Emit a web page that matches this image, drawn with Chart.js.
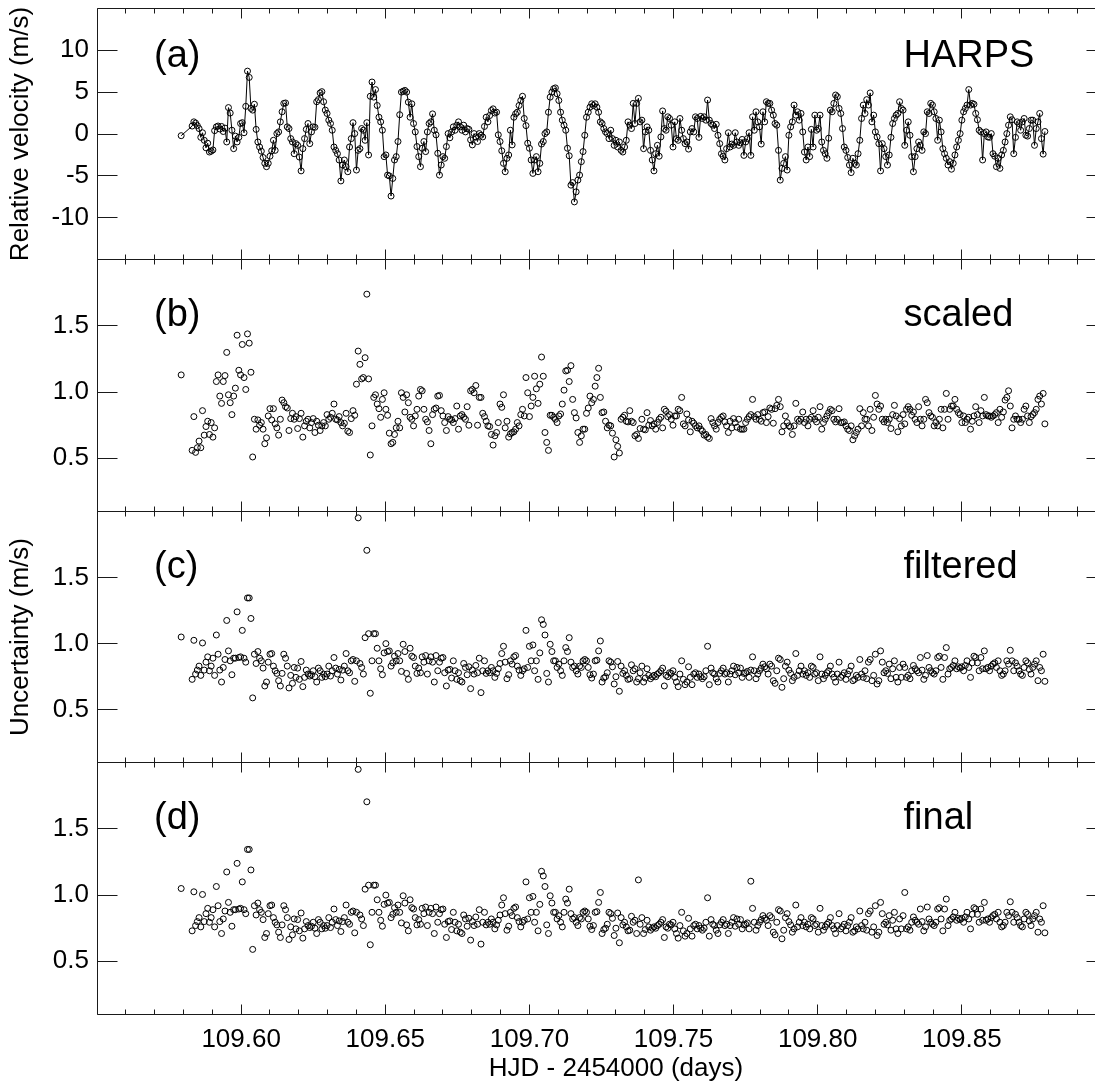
<!DOCTYPE html>
<html>
<head>
<meta charset="utf-8">
<script src="https://cdn.jsdelivr.net/npm/chart.js@4.4.1/dist/chart.umd.min.js"></script>
<style>
html,body{margin:0;padding:0;background:#fff;overflow:hidden;}
#wrap{position:relative;width:1095px;height:1085px;overflow:hidden;background:#fff;}
#wrap canvas{position:absolute;left:0;top:0;}
</style>
</head>
<body>
<div id="wrap">
<canvas id="c0" width="1110" height="1085"></canvas>
<canvas id="c1" width="1110" height="1085"></canvas>
<canvas id="c2" width="1110" height="1085"></canvas>
<canvas id="c3" width="1110" height="1085"></canvas>
</div>
<script>
// ---------------- data (HJD - 2454000, days) ----------------
const TIMES = [109.5792,
109.5830,109.5836,109.5842,109.5848,109.5854,109.5860,109.5866,109.5872,109.5878,109.5884,
109.5890,109.5896,109.5902,109.5908,109.5914,109.5920,109.5926,109.5932,109.5938,109.5944,
109.5950,109.5956,109.5962,109.5968,109.5974,109.5980,109.5986,109.5992,109.5998,109.6004,
109.6010,109.6016,109.6022,109.6028,109.6034,109.6040,109.6046,109.6052,109.6058,109.6064,
109.6070,109.6076,109.6082,109.6088,109.6094,109.6100,109.6106,109.6112,109.6118,109.6124,
109.6130,109.6136,109.6142,109.6148,109.6154,109.6160,109.6166,109.6172,109.6178,109.6184,
109.6190,109.6196,109.6202,109.6208,109.6214,109.6220,109.6226,109.6232,109.6238,109.6244,
109.6250,109.6256,109.6262,109.6268,109.6274,109.6280,109.6286,109.6292,109.6298,109.6304,
109.6310,109.6316,109.6322,109.6328,109.6334,109.6340,109.6346,109.6352,109.6358,109.6364,
109.6370,109.6376,109.6382,109.6388,109.6394,109.6400,109.6406,109.6412,109.6418,109.6424,
109.6430,109.6436,109.6442,109.6448,109.6454,109.6460,109.6466,109.6472,109.6478,109.6484,
109.6490,109.6496,109.6502,109.6508,109.6514,109.6520,109.6526,109.6532,109.6538,109.6544,
109.6550,109.6556,109.6562,109.6568,109.6574,109.6580,109.6586,109.6592,109.6598,109.6604,
109.6610,109.6616,109.6622,109.6628,109.6634,109.6640,109.6646,109.6652,109.6658,109.6664,
109.6670,109.6676,109.6682,109.6688,109.6694,109.6700,109.6706,109.6712,109.6718,109.6724,
109.6730,109.6736,109.6742,109.6748,109.6754,109.6760,109.6766,109.6772,109.6778,109.6784,
109.6790,109.6796,109.6802,109.6808,109.6814,109.6820,109.6826,109.6832,109.6838,109.6844,
109.6850,109.6856,109.6862,109.6868,109.6874,109.6880,109.6886,109.6892,109.6898,109.6904,
109.6910,109.6916,109.6922,109.6928,109.6934,109.6940,109.6946,109.6952,109.6958,109.6964,
109.6970,109.6976,109.6982,109.6988,109.6994,109.7000,109.7006,109.7012,109.7018,109.7024,
109.7030,109.7036,109.7042,109.7048,109.7054,109.7060,109.7066,109.7072,109.7078,109.7084,
109.7090,109.7096,109.7102,109.7108,109.7114,109.7120,109.7126,109.7132,109.7138,109.7144,
109.7150,109.7156,109.7162,109.7168,109.7174,109.7180,109.7186,109.7192,109.7198,109.7204,
109.7210,109.7216,109.7222,109.7228,109.7234,109.7240,109.7246,109.7252,109.7258,109.7264,
109.7270,109.7276,109.7282,109.7288,109.7294,109.7300,109.7306,109.7312,109.7318,109.7324,
109.7330,109.7336,109.7342,109.7348,109.7354,109.7360,109.7366,109.7372,109.7378,109.7384,
109.7390,109.7396,109.7402,109.7408,109.7414,109.7420,109.7426,109.7432,109.7438,109.7444,
109.7450,109.7456,109.7462,109.7468,109.7474,109.7480,109.7486,109.7492,109.7498,109.7504,
109.7510,109.7516,109.7522,109.7528,109.7534,109.7540,109.7546,109.7552,109.7558,109.7564,
109.7570,109.7576,109.7582,109.7588,109.7594,109.7600,109.7606,109.7612,109.7618,109.7624,
109.7630,109.7636,109.7642,109.7648,109.7654,109.7660,109.7666,109.7672,109.7678,109.7684,
109.7690,109.7696,109.7702,109.7708,109.7714,109.7720,109.7726,109.7732,109.7738,109.7744,
109.7750,109.7756,109.7762,109.7768,109.7774,109.7780,109.7786,109.7792,109.7798,109.7804,
109.7810,109.7816,109.7822,109.7828,109.7834,109.7840,109.7846,109.7852,109.7858,109.7864,
109.7870,109.7876,109.7882,109.7888,109.7894,109.7900,109.7906,109.7912,109.7918,109.7924,
109.7930,109.7936,109.7942,109.7948,109.7954,109.7960,109.7966,109.7972,109.7978,109.7984,
109.7990,109.7996,109.8002,109.8008,109.8014,109.8020,109.8026,109.8032,109.8038,109.8044,
109.8050,109.8056,109.8062,109.8068,109.8074,109.8080,109.8086,109.8092,109.8098,109.8104,
109.8110,109.8116,109.8122,109.8128,109.8134,109.8140,109.8146,109.8152,109.8158,109.8164,
109.8170,109.8176,109.8182,109.8188,109.8194,109.8200,109.8206,109.8212,109.8218,109.8224,
109.8230,109.8236,109.8242,109.8248,109.8254,109.8260,109.8266,109.8272,109.8278,109.8284,
109.8290,109.8296,109.8302,109.8308,109.8314,109.8320,109.8326,109.8332,109.8338,109.8344,
109.8350,109.8356,109.8362,109.8368,109.8374,109.8380,109.8386,109.8392,109.8398,109.8404,
109.8410,109.8416,109.8422,109.8428,109.8434,109.8440,109.8446,109.8452,109.8458,109.8464,
109.8470,109.8476,109.8482,109.8488,109.8494,109.8500,109.8506,109.8512,109.8518,109.8524,
109.8530,109.8536,109.8542,109.8548,109.8554,109.8560,109.8566,109.8572,109.8578,109.8584,
109.8590,109.8596,109.8602,109.8608,109.8614,109.8620,109.8626,109.8632,109.8638,109.8644,
109.8650,109.8656,109.8662,109.8668,109.8674,109.8680,109.8686,109.8692,109.8698,109.8704,
109.8710,109.8716,109.8722,109.8728,109.8734,109.8740,109.8746,109.8752,109.8758,109.8764,
109.8770,109.8776,109.8782,109.8788];

// (a) HARPS relative velocity, m/s
const VELOCITY = [-0.2,
0.95,1.45,1.3,1.0,0.65,-0.4,0.15,-0.75,-1.65,-1.1,
-2.15,-2.05,-1.9,0.4,0.85,0.95,0.6,0.9,0.3,0.7,
-0.95,3.15,2.5,0.45,-1.75,-0.25,-0.95,-0.4,1.25,1.35,
0.15,3.3,7.5,6.75,3.05,2.85,3.55,0.55,-0.95,-1.55,
-2.05,-2.8,-3.5,-3.9,-3.5,-2.65,-2.0,-0.75,-1.95,0.05,
0.25,1.45,2.65,3.65,3.7,0.85,0.65,-0.55,-0.95,-2.35,
-1.15,-1.35,-2.75,-4.4,-1.75,-0.55,0.55,1.25,-1.15,0.25,
0.85,0.8,3.85,4.1,4.9,5.05,3.85,2.85,2.45,1.65,
1.25,0.45,-1.55,-1.95,-2.35,-3.1,-5.6,-3.7,-3.1,-3.9,
-4.5,-1.55,-0.55,1.35,0.05,-4.3,-1.95,-1.75,0.65,0.45,
-0.75,1.35,-2.5,4.5,6.2,4.4,5.3,3.4,2.0,1.45,
0.45,-2.7,-2.5,-4.9,-5.0,-7.4,-5.3,-3.1,-2.7,-0.9,
2.3,5.0,5.1,5.2,5.0,3.8,2.0,3.6,1.25,0.25,
-1.5,-2.7,-3.9,-1.7,-0.9,-2.1,0.25,1.25,1.45,2.4,
0.45,-0.1,-2.3,-4.9,-3.7,-2.7,-2.9,-1.5,0.05,-0.45,
0.25,0.85,0.45,1.05,1.45,0.85,0.45,1.05,0.25,0.65,
0.55,-0.7,-1.3,0.05,-0.35,-0.9,0.05,-0.15,-0.35,0.9,
2.0,1.45,2.2,2.8,3.0,2.5,2.6,-0.1,-0.9,-2.0,
-3.5,-4.5,-2.9,-2.5,0.45,-1.3,2.0,2.4,2.6,3.4,
4.0,4.5,1.85,1.0,-1.1,-1.7,-3.1,-4.7,-3.1,-2.7,
-4.5,-3.5,-1.2,-0.9,0.05,0.25,2.6,4.4,5.0,5.4,
5.5,4.8,4.0,2.6,1.65,1.05,0.45,-1.7,-2.6,-6.1,
-5.8,-8.1,-6.9,-5.5,-4.9,-3.3,-2.1,-0.15,2.0,2.6,
3.2,3.6,3.4,3.6,3.2,2.6,1.45,1.25,0.65,0.25,
0.05,-0.55,0.45,-0.55,-1.35,-0.75,-1.55,-0.95,-1.95,-2.15,
-1.55,-0.75,1.45,1.05,0.65,3.65,1.25,3.65,4.25,1.45,
1.65,-1.75,0.25,0.85,0.45,-1.95,-3.1,-4.4,-2.35,-1.35,
-2.65,-0.35,2.75,0.65,0.45,2.05,1.85,1.05,-1.55,1.45,
-0.55,-0.75,1.85,0.45,-0.55,-1.15,-0.95,-1.8,0.25,0.65,
0.25,2.05,1.85,-0.4,2.1,1.85,2.05,1.65,4.05,1.65,
1.25,1.05,0.65,1.15,-0.15,-1.15,-2.35,-2.65,-3.1,-1.75,
0.15,-1.55,-1.2,-1.35,0.15,-0.95,-1.35,-1.05,-0.65,-2.55,
-0.95,-0.55,0.15,-2.55,2.05,0.45,2.65,1.45,0.85,-1.2,
2.65,1.45,3.85,3.65,3.65,2.85,2.25,1.25,1.05,-1.95,
-5.5,-4.1,-3.5,-2.7,-4.3,-0.15,0.85,1.45,3.45,2.25,
2.65,1.65,2.45,0.25,-2.15,-3.1,-1.55,-2.7,0.55,-1.55,
2.25,0.45,0.65,2.25,-0.95,-1.95,-2.35,-2.9,-0.5,2.85,
2.65,3.65,4.65,4.45,3.05,2.45,0.65,-1.55,-1.95,-2.8,
-3.7,-4.6,-2.9,-3.5,-3.7,-2.35,-0.75,1.85,3.45,2.45,
4.1,3.45,4.9,1.45,2.25,0.25,-0.35,-1.15,-4.4,-1.15,
-1.75,-2.7,-3.7,-2.5,-0.4,1.25,1.85,2.25,2.45,3.85,
3.05,2.85,-1.35,0.45,1.45,-0.15,-2.7,-4.5,-2.7,-1.75,
-0.95,-1.35,-1.95,0.25,0.05,2.65,2.45,3.65,3.45,2.65,
1.85,-0.75,1.65,0.25,-1.75,-2.35,-2.9,-3.7,-3.3,-4.2,
-3.5,-2.5,-1.55,-0.75,0.05,1.65,2.65,3.05,3.45,5.3,
3.45,3.65,3.55,2.45,1.7,0.45,0.25,-3.1,0.05,0.25,
-0.35,-0.4,0.05,-2.35,-2.65,-3.9,-2.9,-4.1,-2.5,-1.95,
-0.95,0.05,1.05,2.05,1.7,-2.35,-0.4,1.45,1.25,0.45,
1.45,1.85,-0.15,-0.25,0.65,1.65,1.65,-1.35,0.65,1.45,
2.45,-0.55,-2.4,0.3];

// (b) scaled uncertainty, m/s
const SCALED_UNC = [1.13,
0.56,0.815,0.545,0.58,0.63,0.58,0.86,0.675,0.74,0.78,
0.68,0.77,0.66,0.73,1.08,1.13,0.97,0.915,1.08,1.125,
1.30,0.98,0.92,0.83,0.97,1.03,1.43,1.165,1.13,1.36,
1.11,1.02,1.44,1.37,1.15,0.51,0.795,0.72,0.79,0.75,
0.77,0.72,0.61,0.655,0.82,0.875,0.79,0.875,0.76,0.73,
0.675,0.795,0.94,0.92,0.89,0.88,0.71,0.80,0.84,0.795,
0.815,0.725,0.80,0.84,0.66,0.745,0.78,0.795,0.73,0.77,
0.80,0.695,0.78,0.75,0.71,0.745,0.77,0.745,0.83,0.795,
0.81,0.84,0.91,0.795,0.79,0.815,0.77,0.745,0.765,0.84,
0.705,0.695,0.80,0.86,0.825,1.06,1.31,1.21,1.10,1.11,
1.26,1.74,1.10,0.525,0.745,0.96,0.98,0.91,0.875,0.81,
0.945,0.995,0.87,0.825,0.69,0.61,0.62,0.68,0.73,0.78,
0.73,0.995,0.96,0.85,0.98,0.92,0.81,0.795,0.745,0.82,
0.87,0.97,1.02,1.01,0.87,0.795,0.775,0.71,0.61,0.83,
0.87,0.88,0.97,0.975,0.86,0.82,0.77,0.71,0.815,0.795,
0.79,0.77,0.80,0.895,0.72,0.82,0.83,0.81,0.795,0.89,
0.75,1.01,1.02,0.995,1.05,0.75,0.96,0.96,0.84,0.815,
0.78,0.745,0.74,0.68,0.60,0.67,0.695,0.77,0.91,0.885,
0.98,0.73,0.78,0.66,0.685,0.695,0.70,0.72,0.77,0.745,
0.83,0.87,0.82,1.11,0.995,0.815,0.895,0.96,1.12,1.025,
0.915,1.06,1.265,1.12,0.695,0.62,0.56,0.825,0.825,0.81,
0.795,0.77,0.82,0.835,0.91,1.015,1.16,1.165,1.08,1.2,
0.945,0.845,0.805,0.695,0.62,0.67,0.72,0.72,0.84,0.88,
0.97,0.92,0.945,1.045,1.11,1.18,0.96,0.845,0.85,0.78,
0.73,0.75,0.745,0.69,0.51,0.64,0.59,0.54,0.795,0.81,
0.825,0.78,0.775,0.86,0.78,0.77,0.67,0.68,0.65,0.725,
0.795,0.72,0.715,0.845,0.75,0.785,0.745,0.76,0.72,0.77,
0.795,0.81,0.73,0.87,0.855,0.815,0.83,0.795,0.75,0.82,
0.82,0.87,0.86,0.96,0.76,0.745,0.835,0.79,0.70,0.78,
0.765,0.745,0.73,0.745,0.72,0.705,0.675,0.68,0.66,0.65,
0.80,0.77,0.745,0.72,0.77,0.795,0.81,0.82,0.775,0.745,
0.695,0.78,0.73,0.80,0.77,0.735,0.795,0.72,0.72,0.72,
0.77,0.795,0.815,0.83,0.945,0.815,0.795,0.83,0.795,0.78,
0.845,0.85,0.77,0.815,0.88,0.87,0.765,0.875,0.90,0.945,
0.89,0.70,0.745,0.82,0.77,0.745,0.735,0.68,0.745,0.915,
0.795,0.78,0.795,0.85,0.77,0.795,0.745,0.795,0.81,0.86,
0.795,0.775,0.81,0.89,0.72,0.77,0.795,0.82,0.845,0.87,
0.86,0.795,0.775,0.795,0.875,0.77,0.77,0.775,0.745,0.72,
0.71,0.745,0.64,0.67,0.695,0.72,0.875,0.745,0.845,0.795,
0.795,0.745,0.87,0.71,0.81,0.975,0.91,0.87,0.895,0.795,
0.775,0.795,0.77,0.795,0.725,0.83,0.90,0.82,0.70,0.80,
0.745,0.83,0.76,0.87,0.89,0.87,0.825,0.85,0.795,0.77,
0.89,0.795,0.745,0.795,0.945,0.92,0.845,0.82,0.81,0.745,
0.77,0.745,0.795,0.87,0.73,0.87,0.99,0.795,0.87,0.895,
0.895,0.945,0.87,0.845,0.83,0.77,0.82,0.77,0.795,0.81,
0.72,0.78,0.82,0.89,0.83,0.77,0.86,0.82,0.96,0.83,
0.82,0.82,0.81,0.82,0.83,0.845,0.77,0.87,0.81,0.85,
0.94,0.96,1.01,0.895,0.73,0.795,0.82,0.795,0.795,0.77,
0.795,0.87,0.895,0.82,0.77,0.815,0.83,0.845,0.87,0.945,
0.97,0.91,0.99,0.76];

// (c) filtered uncertainty, m/s
const FILTERED_UNC = [1.05,
0.73,1.025,0.77,0.80,0.83,0.76,1.005,0.80,0.86,0.90,
0.795,0.83,0.89,0.76,1.065,0.92,0.80,0.71,0.82,0.88,
1.175,0.945,0.87,0.765,0.89,0.89,1.24,0.895,0.90,1.10,
0.89,0.86,1.345,1.345,1.19,0.59,0.92,0.85,0.94,0.89,
0.87,0.815,0.68,0.71,0.86,0.92,0.925,0.83,0.795,0.775,
0.72,0.68,0.775,0.92,0.89,0.83,0.665,0.76,0.70,0.82,
0.745,0.815,0.73,0.865,0.675,0.745,0.80,0.77,0.755,0.765,
0.795,0.75,0.71,0.815,0.795,0.745,0.77,0.75,0.77,0.83,
0.755,0.795,0.895,0.815,0.77,0.805,0.725,0.80,0.83,0.925,
0.795,0.78,0.87,0.88,0.715,0.87,1.95,0.85,0.82,0.77,
1.045,1.705,1.075,0.625,0.87,1.075,1.075,0.965,0.87,0.81,
0.765,0.93,1.0,0.94,0.945,0.83,0.855,0.905,0.87,0.925,
0.87,0.79,0.995,0.94,0.775,0.73,0.965,0.905,0.895,0.83,
0.775,0.815,0.78,0.90,0.86,0.91,0.77,0.87,0.90,0.86,
0.71,0.91,0.795,0.86,0.89,0.895,0.78,0.68,0.80,0.805,
0.74,0.87,0.795,0.73,0.78,0.72,0.71,0.85,0.82,0.765,
0.825,0.66,0.80,0.77,0.835,0.78,0.89,0.63,0.795,0.87,
0.775,0.795,0.78,0.82,0.795,0.745,0.775,0.81,0.85,0.925,
0.98,0.86,0.735,0.765,0.87,0.845,0.90,0.91,0.83,0.80,
0.76,0.795,0.81,1.10,0.82,0.98,0.87,0.99,0.795,0.87,
0.73,0.93,1.18,1.145,1.065,0.775,0.71,0.995,0.94,0.87,
0.87,0.82,0.845,0.795,0.76,0.87,0.97,0.94,1.045,0.86,
0.82,0.83,0.795,0.77,0.83,0.82,0.87,0.88,0.87,0.82,
0.765,0.74,0.77,0.87,0.875,0.945,1.02,0.71,0.74,0.75,
0.78,0.87,0.86,0.825,0.695,0.75,0.865,0.64,0.83,0.775,
0.795,0.76,0.73,0.735,0.84,0.795,0.81,0.71,0.735,0.78,
0.83,0.71,0.74,0.81,0.76,0.735,0.75,0.76,0.75,0.77,
0.78,0.795,0.815,0.68,0.76,0.75,0.78,0.775,0.795,0.745,
0.71,0.675,0.77,0.87,0.73,0.69,0.71,0.825,0.745,0.69,
0.77,0.78,0.745,0.77,0.75,0.735,0.75,0.795,0.98,0.69,
0.815,0.78,0.77,0.735,0.71,0.775,0.795,0.815,0.77,0.78,
0.71,0.77,0.795,0.83,0.765,0.82,0.78,0.815,0.745,0.775,
0.78,0.79,0.745,0.80,0.90,0.795,0.735,0.77,0.795,0.815,
0.845,0.825,0.81,0.77,0.845,0.83,0.72,0.70,0.795,0.89,
0.88,0.67,0.735,0.83,0.86,0.80,0.775,0.72,0.745,0.925,
0.76,0.795,0.83,0.77,0.795,0.76,0.78,0.745,0.83,0.82,
0.77,0.78,0.72,0.90,0.77,0.735,0.76,0.78,0.795,0.83,
0.77,0.745,0.71,0.77,0.86,0.745,0.76,0.78,0.73,0.77,
0.795,0.83,0.72,0.73,0.76,0.745,0.88,0.77,0.745,0.795,
0.735,0.86,0.88,0.72,0.76,0.92,0.695,0.72,0.945,0.86,
0.78,0.795,0.775,0.845,0.735,0.81,0.87,0.745,0.71,0.82,
0.745,0.845,0.82,0.745,0.76,0.735,0.795,0.835,0.81,0.795,
0.78,0.895,0.80,0.73,0.76,0.91,0.82,0.795,0.78,0.77,
0.795,0.895,0.905,0.82,0.73,0.895,0.97,0.77,0.81,0.82,
0.835,0.87,0.81,0.825,0.815,0.825,0.795,0.835,0.87,0.82,
0.745,0.855,0.905,0.895,0.855,0.795,0.895,0.81,0.945,0.81,
0.82,0.795,0.83,0.845,0.855,0.82,0.87,0.795,0.76,0.77,
0.795,0.87,0.845,0.95,0.87,0.795,0.855,0.83,0.795,0.77,
0.76,0.82,0.87,0.855,0.805,0.77,0.82,0.845,0.87,0.72,
0.82,0.795,0.92,0.715];

// (d) final uncertainty, m/s
const FINAL_UNC = [1.05,
0.73,1.025,0.77,0.80,0.83,0.76,1.005,0.80,0.86,0.90,
0.795,0.83,0.89,0.76,1.065,0.92,0.80,0.71,0.82,0.88,
1.175,0.945,0.87,0.765,0.89,0.89,1.24,0.895,0.90,1.10,
0.89,0.86,1.345,1.345,1.19,0.59,0.92,0.85,0.94,0.89,
0.87,0.815,0.68,0.71,0.86,0.92,0.925,0.83,0.795,0.775,
0.72,0.68,0.775,0.92,0.89,0.83,0.665,0.76,0.70,0.82,
0.745,0.815,0.73,0.865,0.675,0.745,0.80,0.77,0.755,0.765,
0.795,0.75,0.71,0.815,0.795,0.745,0.77,0.75,0.77,0.83,
0.755,0.795,0.895,0.815,0.77,0.805,0.725,0.80,0.83,0.925,
0.795,0.78,0.87,0.88,0.715,0.87,1.95,0.85,0.82,0.77,
1.045,1.705,1.075,0.625,0.87,1.075,1.075,0.965,0.87,0.81,
0.765,0.93,1.0,0.94,0.945,0.83,0.855,0.905,0.87,0.925,
0.87,0.79,0.995,0.94,0.775,0.73,0.965,0.905,0.895,0.83,
0.775,0.815,0.78,0.90,0.86,0.91,0.77,0.87,0.90,0.86,
0.71,0.91,0.795,0.86,0.89,0.895,0.78,0.68,0.80,0.805,
0.74,0.87,0.795,0.73,0.78,0.72,0.71,0.85,0.82,0.765,
0.825,0.66,0.80,0.77,0.835,0.78,0.89,0.63,0.795,0.87,
0.775,0.795,0.78,0.82,0.795,0.745,0.775,0.81,0.85,0.925,
0.98,0.86,0.735,0.765,0.87,0.845,0.90,0.91,0.83,0.80,
0.76,0.795,0.81,1.10,0.82,0.98,0.87,0.99,0.795,0.87,
0.73,0.93,1.18,1.145,1.065,0.775,0.71,0.995,0.94,0.87,
0.87,0.82,0.845,0.795,0.76,0.87,0.97,0.94,1.045,0.86,
0.82,0.83,0.795,0.77,0.83,0.82,0.87,0.88,0.87,0.82,
0.765,0.74,0.77,0.87,0.875,0.945,1.02,0.71,0.74,0.75,
0.78,0.87,0.86,0.825,0.695,0.75,0.865,0.64,0.83,0.775,
0.795,0.76,0.73,0.735,0.84,0.795,0.81,0.71,1.115,0.78,
0.83,0.71,0.74,0.81,0.76,0.735,0.75,0.76,0.75,0.77,
0.78,0.795,0.815,0.68,0.76,0.75,0.78,0.775,0.795,0.745,
0.71,0.675,0.77,0.87,0.73,0.69,0.71,0.825,0.745,0.69,
0.77,0.78,0.745,0.77,0.75,0.735,0.75,0.795,0.98,0.69,
0.815,0.78,0.77,0.735,0.71,0.775,0.795,0.815,0.77,0.78,
0.71,0.77,0.795,0.83,0.765,0.82,0.78,0.815,0.745,0.775,
0.78,0.79,0.745,1.105,0.90,0.795,0.735,0.77,0.795,0.815,
0.845,0.825,0.81,0.77,0.845,0.83,0.72,0.70,0.795,0.89,
0.88,0.67,0.735,0.83,0.86,0.80,0.775,0.72,0.745,0.925,
0.76,0.795,0.83,0.77,0.795,0.76,0.78,0.745,0.83,0.82,
0.77,0.78,0.72,0.90,0.77,0.735,0.76,0.78,0.795,0.83,
0.77,0.745,0.71,0.77,0.86,0.745,0.76,0.78,0.73,0.77,
0.795,0.83,0.72,0.73,0.76,0.745,0.88,0.77,0.745,0.795,
0.735,0.86,0.88,0.72,0.76,0.92,0.695,0.72,0.945,0.86,
0.78,0.795,0.775,0.845,0.735,0.81,0.87,0.745,0.71,0.82,
0.745,0.845,1.02,0.745,0.76,0.735,0.795,0.835,0.81,0.795,
0.78,0.895,0.80,0.73,0.76,0.91,0.82,0.795,0.78,0.77,
0.795,0.895,0.905,0.82,0.73,0.895,0.97,0.77,0.81,0.82,
0.835,0.87,0.81,0.825,0.815,0.825,0.795,0.835,0.87,0.82,
0.745,0.855,0.905,0.895,0.855,0.795,0.895,0.81,0.945,0.81,
0.82,0.795,0.83,0.845,0.855,0.82,0.87,0.795,0.76,0.77,
0.795,0.87,0.845,0.95,0.87,0.795,0.855,0.83,0.795,0.77,
0.76,0.82,0.87,0.855,0.805,0.77,0.82,0.845,0.87,0.72,
0.82,0.795,0.92,0.715];

const X_TICKS = [109.60, 109.65, 109.70, 109.75, 109.80, 109.85];
const VEL_TICKS = [-10, -5, 0, 5, 10];
const UNC_TICKS = [0.5, 1.0, 1.5];
const PANEL_TAGS = ['(a)', '(b)', '(c)', '(d)'];
const PANEL_NAMES = ['HARPS', 'scaled', 'filtered', 'final'];
const X_LABEL = 'HJD - 2454000 (days)';
const Y_LABEL_A = 'Relative velocity (m/s)';
const Y_LABEL_UNC = 'Uncertainty (m/s)';

// ---------------- layout / style ----------------
const FONT = '"Liberation Sans", Arial, Helvetica, sans-serif';
Chart.defaults.font.family = FONT;
Chart.defaults.font.size = 26;
Chart.defaults.color = '#000';

const CANVAS_W = 1110, CANVAS_H = 1085;
const PLOT_LEFT = 97, PLOT_RIGHT = 1107;
const PANEL_TOP = 8.25, PANEL_H = 251.5;
const LABEL_BASE = [66.5, 326, 578, 829];
const X_TITLE_CENTER = 616, X_TITLE_BASE = 1076;

const framePlugin = {
  id: 'frame',
  afterDraw(chart, args, opts) {
    const {ctx, chartArea: ca} = chart;
    const xs = chart.scales.x, ys = chart.scales.y;
    const snap = v => Math.floor(v) + 0.5;
    const L = snap(ca.left), R = snap(ca.right), T = snap(ca.top), B = snap(ca.bottom);
    ctx.save();
    ctx.strokeStyle = '#1a1a1a';
    ctx.lineWidth = 1;
    ctx.beginPath();
    ctx.rect(L, T, R - L, B - T);
    for (let i = 0; i <= 35; i++) {
      const px = snap(xs.getPixelForValue(xs.min + i * 0.01));
      const len = (i % 5 === 0) ? 10 : 5;
      ctx.moveTo(px, B); ctx.lineTo(px, B - len);
      ctx.moveTo(px, T); ctx.lineTo(px, T + len);
    }
    ys.ticks.forEach(t => {
      const py = snap(ys.getPixelForValue(t.value));
      ctx.moveTo(L, py); ctx.lineTo(L + 20, py);
      ctx.moveTo(R, py); ctx.lineTo(R - 20, py);
    });
    ctx.stroke();
    ctx.fillStyle = '#000';
    ctx.font = '38px ' + FONT;
    ctx.textBaseline = 'alphabetic';
    ctx.textAlign = 'left';
    ctx.fillText(opts.tag, 154, opts.base);
    ctx.fillText(opts.name, 903.5, opts.base);
    if (opts.xTitle) {
      ctx.font = '26px ' + FONT;
      ctx.textAlign = 'center';
      ctx.fillText(opts.xTitle, X_TITLE_CENTER, X_TITLE_BASE);
    }
    ctx.restore();
  }
};

function series(vals) { return TIMES.map((t, i) => ({x: t, y: vals[i]})); }

function makePanel(i, vals, withLine, yMin, yMax, yTicks, yFmt, yTitle) {
  const top = PANEL_TOP + i * PANEL_H;
  const bottom = top + PANEL_H;
  const last = (i === 3);
  return new Chart(document.getElementById('c' + i), {
    type: 'scatter',
    data: {
      datasets: [{
        data: series(vals),
        showLine: withLine,
        borderColor: '#000',
        borderWidth: 1,
        tension: 0,
        pointRadius: 3,
        pointHoverRadius: 3,
        pointBorderWidth: 1,
        pointBorderColor: '#000',
        pointBackgroundColor: 'rgba(0,0,0,0)',
        backgroundColor: 'rgba(0,0,0,0)'
      }]
    },
    options: {
      responsive: false,
      animation: false,
      devicePixelRatio: 1,
      events: [],
      layout: {
        padding: {
          left: 0,
          right: CANVAS_W - PLOT_RIGHT,
          top: top,
          bottom: last ? 0 : CANVAS_H - bottom
        }
      },
      plugins: {
        legend: {display: false},
        tooltip: {enabled: false},
        frame: {tag: PANEL_TAGS[i], name: PANEL_NAMES[i], base: LABEL_BASE[i], xTitle: last ? X_LABEL : null}
      },
      scales: {
        x: {
          type: 'linear',
          min: 109.55,
          max: 109.90,
          display: last,
          position: 'bottom',
          afterBuildTicks: s => { s.ticks = X_TICKS.map(v => ({value: v})); },
          afterFit: s => {
            s.height = last ? CANVAS_H - (PANEL_TOP + 4 * PANEL_H) : 0;
            s.paddingLeft = 0; s.paddingRight = 0; s.paddingTop = 0; s.paddingBottom = 0;
          },
          grid: {display: false, drawTicks: false},
          border: {display: false},
          ticks: {padding: 10, maxRotation: 0, autoSkip: false, callback: v => Number(v).toFixed(2)},
          title: {display: false}
        },
        y: {
          type: 'linear',
          min: yMin,
          max: yMax,
          position: 'left',
          afterBuildTicks: s => { s.ticks = yTicks.map(v => ({value: v})); },
          afterFit: s => {
            s.width = PLOT_LEFT;
            s.paddingTop = 0; s.paddingBottom = 0; s.paddingLeft = 0; s.paddingRight = 0;
          },
          grid: {display: false, drawTicks: false},
          border: {display: false},
          ticks: {padding: 8, callback: v => yFmt(Number(v))},
          title: {display: !!yTitle, text: yTitle || '', padding: {top: 5, bottom: 0}}
        }
      }
    },
    plugins: [framePlugin]
  });
}

const intFmt = v => String(Math.round(v));
const oneFmt = v => v.toFixed(1);
makePanel(0, VELOCITY, true, -15, 15, VEL_TICKS, intFmt, Y_LABEL_A);
makePanel(1, SCALED_UNC, false, 0.1, 2.0, UNC_TICKS, oneFmt, null);
makePanel(2, FILTERED_UNC, false, 0.1, 2.0, UNC_TICKS, oneFmt, Y_LABEL_UNC);
makePanel(3, FINAL_UNC, false, 0.1, 2.0, UNC_TICKS, oneFmt, null);
</script>
</body>
</html>
